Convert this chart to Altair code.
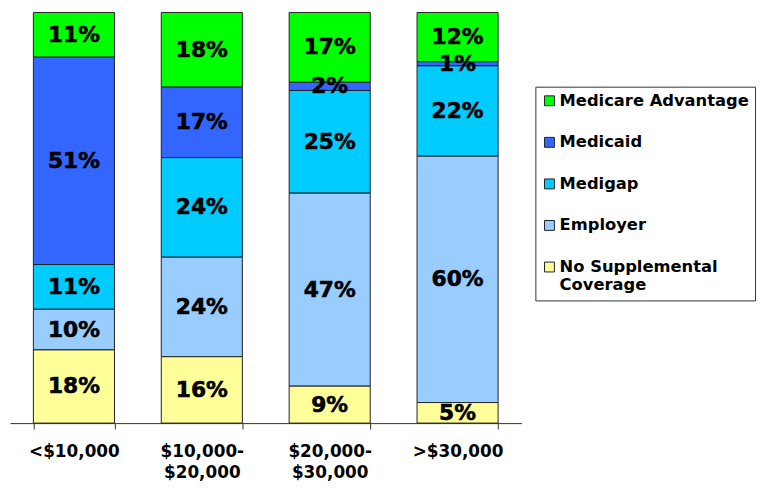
import altair as alt
import pandas as pd

incomes = ["<$10,000", "$10,000-$20,000", "$20,000-$30,000", ">$30,000"]
coverage = ["Medicare Advantage", "Medicaid", "Medigap", "Employer", "No Supplemental Coverage"]
stack_rank = [5, 4, 3, 2, 1]  # 1 = bottom of the stack
colors = ["#00FF00", "#3366FF", "#00CCFF", "#99CCFF", "#FFFF99"]

medicare_advantage = [11, 18, 17, 12]
medicaid = [51, 17, 2, 1]
medigap = [11, 24, 25, 22]
employer = [10, 24, 47, 60]
no_supplemental = [18, 16, 9, 5]

series = [medicare_advantage, medicaid, medigap, employer, no_supplemental]

rows = []
for cov, rank, vals in zip(coverage, stack_rank, series):
    for inc, v in zip(incomes, vals):
        rows.append({"income": inc, "coverage": cov, "ord": rank, "pct": v})
df = pd.DataFrame(rows)

FONT = "DejaVu Sans"

base = (
    alt.Chart(df)
    .transform_stack(
        stack="pct",
        groupby=["income"],
        as_=["y0", "y1"],
        sort=[alt.SortField("ord", order="ascending")],
        offset="normalize",
    )
    .transform_calculate(ymid="(datum.y0 + datum.y1) / 2", label="datum.pct + '%'")
)

x_enc = alt.X(
    "income:N",
    sort=incomes,
    scale=alt.Scale(paddingInner=0.366, paddingOuter=0.183),
    axis=alt.Axis(
        title=None,
        labelAngle=0,
        tickBand="extent",
        tickSize=6,
        tickColor="#333333",
        domainColor="#333333",
        labelFont=FONT,
        labelFontWeight="bold",
        labelFontSize=17,
        labelColor="black",
        labelPadding=15,
        labelLineHeight=21,
        labelExpr="indexof(datum.label, '-') > 0 ? [slice(datum.label, 0, indexof(datum.label, '-') + 1), slice(datum.label, indexof(datum.label, '-') + 1)] : datum.label",
    ),
)

bars = base.mark_bar(stroke="#222222", strokeWidth=1).encode(
    x=x_enc,
    y=alt.Y("y0:Q", scale=alt.Scale(domain=[0, 1]), axis=None),
    y2="y1:Q",
    color=alt.Color(
        "coverage:N",
        scale=alt.Scale(domain=coverage, range=colors),
        legend=alt.Legend(
            title=None,
            orient="none",
            legendX=531,
            legendY=75,
            strokeColor="#333333",
            fillColor="white",
            padding=6,
            symbolType="square",
            symbolSize=100,
            symbolStrokeColor="#222222",
            symbolStrokeWidth=1,
            symbolOpacity=1,
            labelFont=FONT,
            labelFontWeight="bold",
            labelFontSize=16.5,
            labelColor="black",
            labelLimit=400,
            labelOffset=2,
            rowPadding=25,
            labelExpr="datum.label == 'No Supplemental Coverage' ? ['No Supplemental', 'Coverage'] : datum.label",
        ),
    ),
)

texts = base.mark_text(
    font=FONT, fontWeight="bold", fontSize=22, color="black",
    stroke="black", strokeWidth=0.6,
).encode(
    x=x_enc,
    y=alt.Y("ymid:Q", scale=alt.Scale(domain=[0, 1]), axis=None),
    text="label:N",
)

chart = (
    alt.layer(bars, texts)
    .properties(
        width=517,
        height=415,
        padding={"left": 2, "top": 2, "right": 239, "bottom": 57},
        autosize=alt.AutoSizeParams(type="none"),
    )
    .configure_view(stroke=None)
)

chart.save("out.html", embed_options={"renderer": "svg", "actions": False})
